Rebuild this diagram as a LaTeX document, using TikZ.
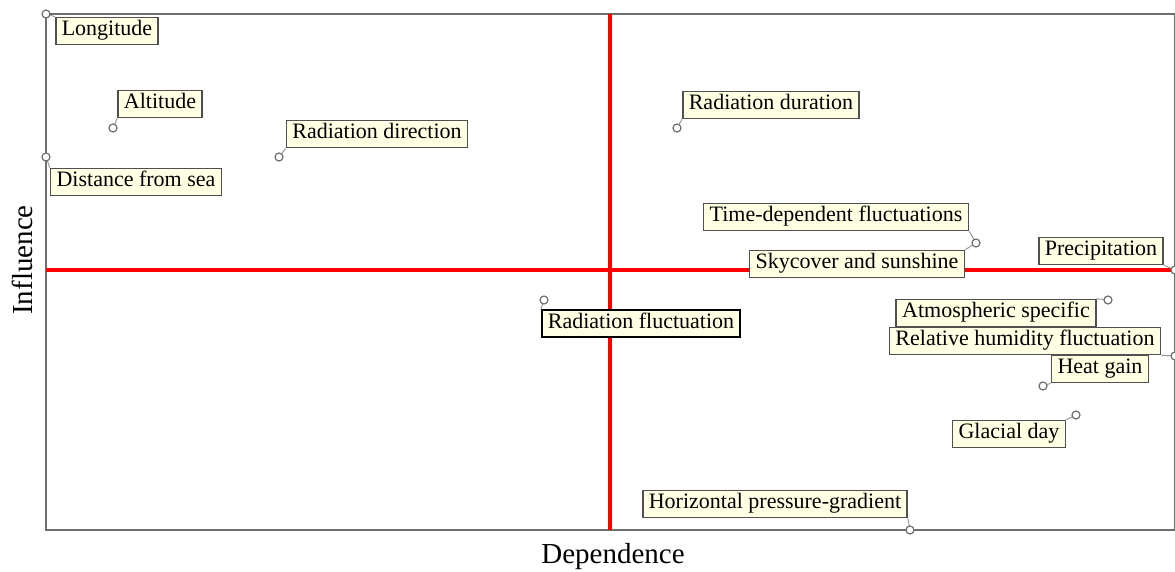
\documentclass[tikz,border=0pt]{standalone}
\usepackage{fontspec}
\setmainfont{Liberation Serif}
\usepackage{tikz}
\usetikzlibrary{positioning,calc}
\definecolor{boxfill}{RGB}{255,255,228}
\definecolor{framegray}{RGB}{110,110,110}
\definecolor{boxgray}{RGB}{80,80,80}

\begin{document}
\begin{tikzpicture}[x=0.5pt,y=-0.5pt,font=\fontsize{11}{13}\selectfont]
        \tikzstyle{lbl} = [draw=boxgray, fill=boxfill, line width=0.8pt, inner xsep=3pt, inner ysep=1.5pt, text height=0.75em, text depth=0.3em]
        \tikzstyle{pt} = [circle, draw=framegray, fill=white, line width=0.6pt, inner sep=0pt, minimum size=4pt]
        \tikzstyle{leader} = [draw=framegray!70, line width=0.5pt]
        \useasboundingbox (0,0) rectangle (1175,572);

        % Frame and quadrants
        \draw[framegray, line width=0.7pt] (46,14) rectangle (1175,530);
        \draw[red, line width=2pt] (610,14) -- (610,530);
        \draw[red, line width=2pt] (46,270) -- (1175,270);

        % Points
        \coordinate (p-lon) at (46,14);
        \coordinate (p-alt) at (113,128);
        \coordinate (p-rdir) at (279,157);
        \coordinate (p-sea) at (46,157);
        \coordinate (p-rdur) at (677,128);
        \coordinate (p-time) at (976,243);
        \coordinate (p-prec) at (1175,270);
        \coordinate (p-atm) at (1108,300);
        \coordinate (p-rh) at (1175,356);
        \coordinate (p-heat) at (1043,386);
        \coordinate (p-glac) at (1076,415);
        \coordinate (p-rfl) at (544,300);
        \coordinate (p-hpg) at (910,530);

        % Labels
        \node[lbl] (lon) at (107,31) {Longitude};
        \node[lbl] (alt) at (160,104) {Altitude};
        \node[lbl] (rdir) at (377,134) {Radiation direction};
        \node[lbl] (sea) at (136,182) {Distance from sea};
        \node[lbl] (rdur) at (771,105) {Radiation duration};
        \node[lbl] (time) at (836,217) {Time-dependent fluctuations};
        \node[lbl] (sky) at (857,264) {Skycover and sunshine};
        \node[lbl] (prec) at (1101,251) {Precipitation};
        \node[lbl] (atm) at (996,313) {Atmospheric specific};
        \node[lbl] (rh) at (1025,341) {Relative humidity fluctuation};
        \node[lbl] (heat) at (1100,369) {Heat gain};
        \node[lbl] (glac) at (1009,434) {Glacial day};
        \node[lbl, draw=black, line width=1pt] (rfl) at (641,324) {Radiation fluctuation};
        \node[lbl] (hpg) at (775,504) {Horizontal pressure-gradient};

        % Leaders
        \path[leader] (p-lon) edge (lon.north west);
        \path[leader] (p-alt) edge (alt.south west);
        \path[leader] (p-rdir) edge (rdir.south west);
        \path[leader] (p-sea) edge (sea.north west);
        \path[leader] (p-rdur) edge (rdur.south west);
        \path[leader] (p-time) edge (time.south east);
        \path[leader] (p-time) edge (sky.north east);
        \path[leader] (p-prec) edge (prec.south east);
        \path[leader] (p-atm) edge (atm.north east);
        \path[leader] (p-rh) edge (rh.south east);
        \path[leader] (p-heat) edge (heat.south west);
        \path[leader] (p-glac) edge (glac.north east);
        \path[leader] (p-rfl) edge (rfl.north west);
        \path[leader] (p-hpg) edge (hpg.south east);

        % Markers
        \foreach \p in {lon,alt,rdir,sea,rdur,time,prec,atm,rh,heat,glac,rfl,hpg}
            \node[pt] at (p-\p) {};

        % Axes
        \node[rotate=90, font=\fontsize{14.5}{17}\selectfont] (infl) at (22,260) {Influence};
        \node[font=\fontsize{14.5}{17}\selectfont] (dep) at (613,557) {Dependence};
    \end{tikzpicture}
\end{document}
